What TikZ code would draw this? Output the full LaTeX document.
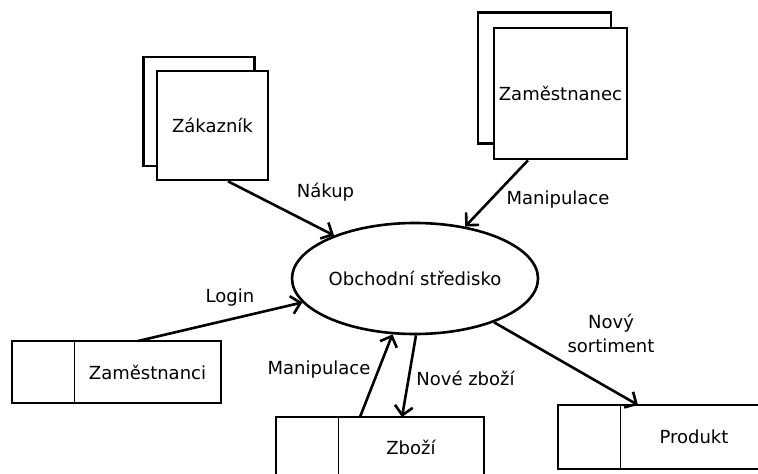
\documentclass[tikz,border=0pt]{standalone}
\usepackage{fontspec}
\setmainfont{DejaVu Sans}
\usetikzlibrary{shapes.geometric,arrows.meta}

\begin{document}
\begin{tikzpicture}[x=1pt,y=-1pt,line width=2.6pt,font=\fontsize{18}{24}\selectfont,
  entity/.style={draw,fill=white,inner sep=1pt},
  store/.style={outer sep=0pt,inner sep=0pt},
  flow/.style={-{Straight Barb[length=9pt,width=18pt,line width=2.6pt]}}]
\useasboundingbox (0,0) rectangle (758,474);
\clip (0,0) rectangle (758,474);
% entities
\node[entity,minimum width=111pt,minimum height=109pt] (zakb) at (199,111.5) {};
\node[entity,minimum width=111pt,minimum height=109pt] (zak) at (212.5,125.5) {Zákazník};
\node[entity,minimum width=133pt,minimum height=131pt] (zamb) at (544.5,78) {};
\node[entity,minimum width=133pt,minimum height=131pt] (zam) at (560.5,93.5) {Zaměstnanec};
% process
\node[draw,ellipse,inner sep=0pt,minimum width=246pt,minimum height=111pt] (proc) at (415,278.5) {Obchodní středisko};
% data stores
\node[store,minimum width=147pt,minimum height=62pt] (zmn) at (147.5,372) {Zaměstnanci};
\node[store,minimum width=146pt,minimum height=60pt] (zbz) at (411,447) {Zboží};
\node[store,minimum width=148pt,minimum height=64pt] (prd) at (694,437) {Produkt};
\foreach \s in {zmn,zbz,prd} {
  \draw ([xshift=-62pt]\s.north west) rectangle (\s.south east);
  \draw[line width=1pt] (\s.north west) -- (\s.south west);
}
% flows
\draw[flow] ([xshift=15.5pt]zak.south) -- (proc.152);
\draw[flow] ([xshift=-32.5pt]zam.south) -- (proc.46);
\draw[flow] ([xshift=-9.5pt]zmn.north) -- (proc.192);
\draw[flow] ([xshift=-51pt]zbz.north) -- (proc.248);
\draw[flow] (proc.271) -- ([xshift=-9pt]zbz.north);
\draw[flow] (proc.331) -- ([xshift=-56pt]prd.north);
% labels
\node (nakup) at (325.5,192) {Nákup};
\node (manip1) at (558,200) {Manipulace};
\node (login) at (230,298) {Login};
\node (manip2) at (319,370) {Manipulace};
\node (nove) at (465.5,378) {Nové zboží};
\node[align=center] (sort) at (611,333) {Nový\\sortiment};
\end{tikzpicture}
\end{document}
